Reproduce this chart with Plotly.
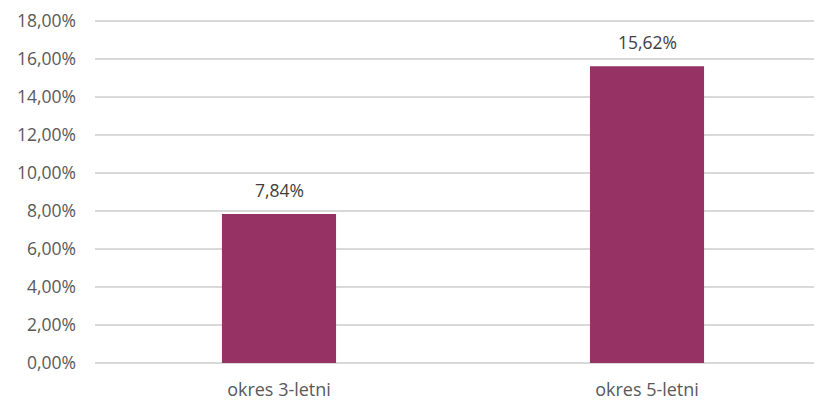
import plotly.graph_objects as go

categories = ["okres 3-letni", "okres 5-letni"]
values = [0.0784, 0.1562]
tick_vals = [0.0, 0.02, 0.04, 0.06, 0.08, 0.10, 0.12, 0.14, 0.16, 0.18]

bar_color = "#963264"
text_color = "#595959"
font_family = "Open Sans"

fig = go.Figure()
fig.add_trace(go.Bar(
    x=categories,
    y=values,
    marker=dict(color=bar_color, line=dict(width=0)),
    width=0.31,
    hoverinfo="skip",
))

for c, v in zip(categories, values):
    fig.add_annotation(
        x=c, y=v, text=f"{v*100:.2f}".replace(".", ",") + "%",
        showarrow=False, yanchor="bottom", yshift=10,
        font=dict(family=font_family, size=17.5, color="#404040"),
    )

fig.update_layout(
    width=814, height=395,
    margin=dict(l=87, r=0, t=9, b=40),
    paper_bgcolor="white", plot_bgcolor="white",
    separators=", ",
    showlegend=False,
    font=dict(family=font_family, size=17.5, color=text_color),
)
fig.update_xaxes(
    type="category",
    range=[-0.5, 1.4755],
    showgrid=False, showline=False, ticks="",
    tickfont=dict(family=font_family, size=18, color=text_color),
    ticklabelstandoff=14,
)
fig.update_yaxes(
    range=[0, 0.181],
    tickvals=tick_vals,
    tickformat=".2%",
    showgrid=True, gridcolor="#d9d9d9", gridwidth=1.5,
    zeroline=True, zerolinecolor="#d9d9d9", zerolinewidth=1.5,
    showline=False, ticks="",
    tickfont=dict(family=font_family, size=17.5, color=text_color),
    ticklabelstandoff=18,
    ticklabeloverflow="allow",
)

fig.write_html("out.html")
